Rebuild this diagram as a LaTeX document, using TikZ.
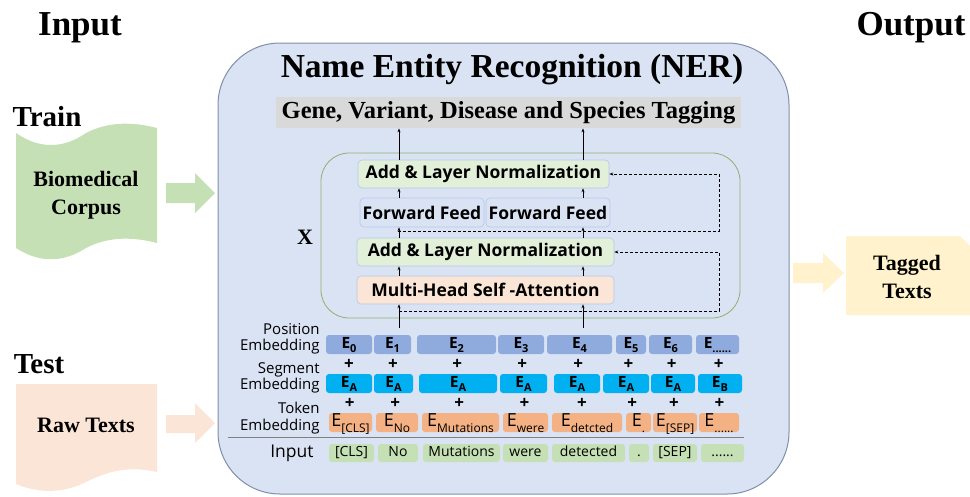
\documentclass[tikz,border=0pt]{standalone}
\usepackage{fontspec}
\setmainfont{Liberation Serif}
\setsansfont{Open Sans}
\usepackage{tikz}
\usetikzlibrary{calc}
\usetikzlibrary{arrows.meta}

\definecolor{nerbg}{HTML}{DAE3F3}
\definecolor{neredge}{HTML}{7F8FA9}
\definecolor{taggray}{HTML}{D9D9D9}
\definecolor{encedge}{HTML}{90B070}
\definecolor{layeredge}{HTML}{B4C7E7}
\definecolor{normclr}{HTML}{E2F0D9}
\definecolor{attclr}{HTML}{FBE5D6}
\definecolor{posclr}{HTML}{8FAADC}
\definecolor{segclr}{HTML}{00B0F0}
\definecolor{tokclr}{HTML}{F4B183}
\definecolor{inclr}{HTML}{C5E0B4}
\definecolor{trainclr}{HTML}{C5E0B4}
\definecolor{testclr}{HTML}{FBE5D6}
\definecolor{outclr}{HTML}{FFF2CC}

% lowered subscripts for the embedding boxes
\newcommand{\bsub}[1]{\raisebox{-0.55ex}{\fontsize{11}{11}\selectfont #1}}
\newcommand{\tsub}[1]{\raisebox{-0.6ex}{\fontsize{12}{12}\selectfont #1}}

\begin{document}
\begin{tikzpicture}[x=1pt, y=-1pt, line width=0.8pt,
    headtxt/.style={font=\bfseries\fontsize{35}{35}\selectfont},
    sidetxt/.style={align=center, font=\bfseries\fontsize{22}{28}\selectfont},
    layer/.style={draw=layeredge, line width=0.6pt, rounded corners=4, inner sep=0, minimum height=28,
        font=\sffamily\bfseries\fontsize{17.5}{17.5}\selectfont},
    posbox/.style={fill=posclr, rounded corners=3, inner sep=0, minimum height=19,
        text height=11pt, text depth=4pt, font=\sffamily\bfseries\fontsize{15.5}{15.5}\selectfont},
    segbox/.style={posbox, fill=segclr},
    tokbox/.style={fill=tokclr, rounded corners=3, inner sep=0, minimum height=19,
        text height=13pt, text depth=5pt, font=\sffamily\fontsize{18}{18}\selectfont},
    inbox/.style={fill=inclr, rounded corners=3, inner sep=0, minimum height=18,
        text height=10pt, text depth=3pt, font=\sffamily\fontsize{14}{14}\selectfont},
    rowlab/.style={anchor=east, align=right, inner sep=0, font=\sffamily\fontsize{15}{16.5}\selectfont},
    plus/.style={inner sep=0, font=\sffamily\bfseries\fontsize{17}{17}\selectfont},
    flow/.style={-{Stealth[length=4pt,width=3pt]}, line width=0.7pt},
    res/.style={flow, line width=0.8pt, dash pattern=on 3pt off 2pt}]

    \useasboundingbox (0,0) rectangle (970,496);

    % draw titles
    \node[headtxt] (intitle) at (80,28) {Input};
    \node[headtxt] (outtitle) at (911,28) {Output};
    \node[font=\bfseries\fontsize{29}{29}\selectfont] (train) at (47,117) {Train};
    \node[font=\bfseries\fontsize{29}{29}\selectfont] (test) at (39,364) {Test};

    % draw training corpus (punched tape) and its arrow
    \fill[trainclr] (16,133) .. controls (39,149) and (63,149) .. (86,133)
        .. controls (109,121) and (134,122) .. (157,128) -- (157,243)
        .. controls (134,237) and (109,236) .. (86,248)
        .. controls (63,263) and (39,263) .. (16,248) -- cycle;
    \node[sidetxt] (corpus) at (86,195) {Biomedical\\Corpus};
    \fill[trainclr] (166,183) -- (195,183) -- (195,173) -- (215,193) -- (195,213) -- (195,203) -- (166,203) -- cycle;

    % draw raw text document and its arrow
    \fill[testclr] (16,384) -- (157,384) -- (157,472) .. controls (130,466) and (110,470) .. (86,482)
        .. controls (60,495) and (35,492) .. (16,484) -- cycle;
    \node[sidetxt] (raw) at (86,425) {Raw Texts};
    \fill[testclr] (166,415) -- (195,415) -- (195,403) -- (215,423) -- (195,443) -- (195,433) -- (166,433) -- cycle;

    % draw output document and its arrow
    \fill[outclr] (793,263) -- (823,263) -- (823,253) -- (844,273) -- (823,293) -- (823,283) -- (793,283) -- cycle;
    \fill[outclr] (846,236) -- (960,236) -- (970,246) -- (970,315) -- (846,315) -- cycle;
    \node[sidetxt] (tagged) at (907,277) {Tagged\\Texts};

    % draw NER box
    \draw[fill=nerbg, draw=neredge, line width=1pt, rounded corners=62] (218,43) rectangle (789,494);
    \node[font=\bfseries\fontsize{33.5}{33.5}\selectfont] (ner) at (512,70) {Name Entity Recognition (NER)};
    \node[fill=taggray, inner sep=0, minimum width=465, minimum height=31,
        font=\bfseries\fontsize{24.5}{24.5}\selectfont] (tag) at (508.5,112.5) {Gene, Variant, Disease and Species Tagging};

    % draw encoder block
    \draw[draw=encedge, rounded corners=28] (321,153) rectangle (740,318);
    \node[font=\bfseries\fontsize{22}{22}\selectfont] (times) at (305,237) {X};
    \node[layer, fill=normclr, minimum width=251] (an2) at (483.5,174) {Add \& Layer Normalization};
    \node[layer, fill=nerbg, minimum width=124, minimum height=29] (ff1) at (422,212.5) {Forward Feed};
    \node[layer, fill=nerbg, minimum width=124, minimum height=29] (ff2) at (548,212.5) {Forward Feed};
    \node[layer, fill=normclr, minimum width=257] (an1) at (485.5,252) {Add \& Layer Normalization};
    \node[layer, fill=attclr, minimum width=257] (mha) at (485.5,290) {Multi-Head Self -Attention};

    % draw flow through the encoder
    \coordinate (inL) at (399,328);
    \coordinate (inR) at (583,328);
    \draw[flow] (inL) -- (inL |- mha.south);
    \draw[flow] (inR) -- (inR |- mha.south);
    \draw[flow] (mha.north -| inL) -- (an1.south -| inL);
    \draw[flow] (mha.north -| inR) -- (an1.south -| inR);
    \draw[flow] (an1.north -| inL) -- (ff1.south -| inL);
    \draw[flow] (an1.north -| inR) -- (ff2.south -| inR);
    \draw[flow] (ff1.north -| inL) -- (an2.south -| inL);
    \draw[flow] (ff2.north -| inR) -- (an2.south -| inR);
    \draw[flow] (an2.north -| inL) -- (tag.south -| inL);
    \draw[flow] (an2.north -| inR) -- (tag.south -| inR);

    % draw residual connections
    \coordinate (r1) at (399,311);
    \coordinate (r1c) at (719,311);
    \coordinate (r2) at (398,231);
    \coordinate (r2c) at (719,231);
    \draw[res] (r1) -- (r1c) |- (an1.east);
    \draw[res] (r2) -- (r2c) |- (an2.east);

    % draw row labels
    \node[rowlab] (lpos) at (320,339) {Position\\Embedding};
    \node[rowlab] (lseg) at (320,378) {Segment\\Embedding};
    \node[rowlab] (ltok) at (320,418) {Token\\Embedding};
    \node[rowlab, font=\sffamily\fontsize{17.5}{17.5}\selectfont] (lin) at (314,453) {Input};

    % draw position embeddings
    \node[posbox, minimum width=46] (pos0) at (349,344.5) {E\bsub{0}};
    \node[posbox, minimum width=37] (pos1) at (392.5,344.5) {E\bsub{1}};
    \node[posbox, minimum width=79] (pos2) at (456.5,344.5) {E\bsub{2}};
    \node[posbox, minimum width=46] (pos3) at (521,344.5) {E\bsub{3}};
    \node[posbox, minimum width=65] (pos4) at (579.5,344.5) {E\bsub{4}};
    \node[posbox, minimum width=30] (pos5) at (631,344.5) {E\bsub{5}};
    \node[posbox, minimum width=43] (pos6) at (670.5,344.5) {E\bsub{6}};
    \node[posbox, minimum width=43] (pos7) at (717.5,344.5) {E\bsub{......}};

    % draw segment embeddings
    \node[segbox, minimum width=46] (seg0) at (349,383.5) {E\bsub{A}};
    \node[segbox, minimum width=39] (seg1) at (393.5,383.5) {E\bsub{A}};
    \node[segbox, minimum width=78] (seg2) at (458,383.5) {E\bsub{A}};
    \node[segbox, minimum width=47] (seg3) at (523.5,383.5) {E\bsub{A}};
    \node[segbox, minimum width=46] (seg4) at (577,383.5) {E\bsub{A}};
    \node[segbox, minimum width=46] (seg5) at (626,383.5) {E\bsub{A}};
    \node[segbox, minimum width=44] (seg6) at (673,383.5) {E\bsub{A}};
    \node[segbox, minimum width=44] (seg7) at (720,383.5) {E\bsub{B}};

    % draw token embeddings
    \node[tokbox, minimum width=43] (tok0) at (350.5,422.5) {E\tsub{[CLS]}};
    \node[tokbox, minimum width=42] (tok1) at (397,422.5) {E\tsub{No}};
    \node[tokbox, minimum width=77] (tok2) at (460.5,422.5) {E\tsub{Mutations}};
    \node[tokbox, minimum width=45] (tok3) at (525.5,422.5) {E\tsub{were}};
    \node[tokbox, minimum width=70] (tok4) at (587,422.5) {E\tsub{detcted}};
    \node[tokbox, minimum width=25] (tok5) at (638.5,422.5) {E\tsub{.}};
    \node[tokbox, minimum width=44] (tok6) at (675,422.5) {E\tsub{[SEP]}};
    \node[tokbox, minimum width=40] (tok7) at (719,422.5) {E\tsub{......}};

    % draw plus signs
    \foreach \i in {0,...,7} {
        \node[plus] (pa\i) at ($(pos\i.south)!.5!(seg\i.north)$) {+};
        \node[plus] (pb\i) at ($(seg\i.south)!.5!(tok\i.north)$) {+};
    }

    % draw input separator
    \draw[gray, line width=1pt] (228,437) -- (744,437);

    % draw input tokens
    \node[inbox, minimum width=45] (in0) at (351.5,453) {[CLS]};
    \node[inbox, minimum width=40] (in1) at (398,453) {No};
    \node[inbox, minimum width=77] (in2) at (461.5,453) {Mutations};
    \node[inbox, minimum width=45] (in3) at (525.5,453) {were};
    \node[inbox, minimum width=73] (in4) at (588.5,453) {detected};
    \node[inbox, minimum width=20] (in5) at (639,453) {.};
    \node[inbox, minimum width=44] (in6) at (675,453) {[SEP]};
    \node[inbox, minimum width=43] (in7) at (722.5,453) {......};

\end{tikzpicture}
\end{document}
